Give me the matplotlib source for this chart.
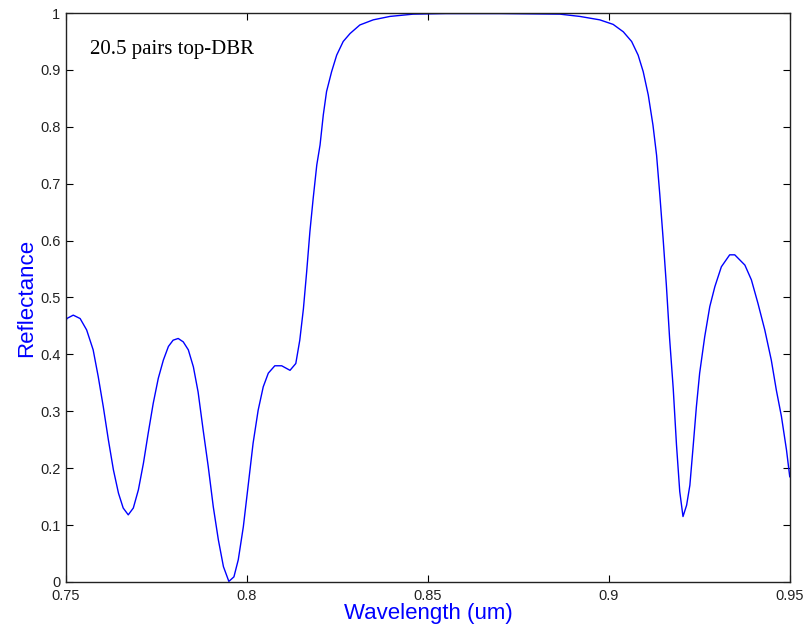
import matplotlib
matplotlib.use("Agg")
from matplotlib import pyplot as plt

# reflectance spectrum
wavelength = [0.7500, 0.7502, 0.7520, 0.7539, 0.7557, 0.7575, 0.7589, 0.7603,
              0.7617, 0.7631, 0.7645, 0.7658, 0.7672, 0.7686, 0.7700, 0.7714,
              0.7727, 0.7741, 0.7755, 0.7769, 0.7783, 0.7796, 0.7810, 0.7824,
              0.7838, 0.7852, 0.7865, 0.7879, 0.7893, 0.7907, 0.7921, 0.7935,
              0.7950, 0.7964, 0.7976, 0.7990, 0.8004, 0.8017, 0.8031, 0.8045,
              0.8059, 0.8077, 0.8096, 0.8119, 0.8135, 0.8146, 0.8156, 0.8165,
              0.8174, 0.8183, 0.8193, 0.8202, 0.8211, 0.8220, 0.8234, 0.8248,
              0.8266, 0.8285, 0.8312, 0.8349, 0.8395, 0.8459, 0.8550, 0.8700,
              0.8865, 0.8920, 0.8975, 0.9012, 0.9040, 0.9063, 0.9081, 0.9095,
              0.9109, 0.9122, 0.9132, 0.9141, 0.9150, 0.9159, 0.9168, 0.9178,
              0.9187, 0.9196, 0.9205, 0.9215, 0.9224, 0.9233, 0.9242, 0.9251,
              0.9265, 0.9279, 0.9293, 0.9311, 0.9334, 0.9348, 0.9376, 0.9394,
              0.9412, 0.9431, 0.9449, 0.9463, 0.9477, 0.9491, 0.9500]
reflectance = [0.457, 0.463, 0.469, 0.463, 0.443, 0.408, 0.361, 0.308,
               0.250, 0.197, 0.156, 0.130, 0.118, 0.130, 0.162, 0.209,
               0.261, 0.314, 0.358, 0.390, 0.414, 0.425, 0.428, 0.422,
               0.408, 0.378, 0.334, 0.267, 0.203, 0.132, 0.074, 0.027,
               0.001, 0.009, 0.039, 0.097, 0.173, 0.244, 0.302, 0.343,
               0.367, 0.380, 0.380, 0.372, 0.384, 0.425, 0.480, 0.545,
               0.616, 0.674, 0.733, 0.768, 0.821, 0.862, 0.897, 0.926,
               0.950, 0.964, 0.979, 0.988, 0.994, 0.998, 0.999, 0.999,
               0.998, 0.994, 0.988, 0.980, 0.967, 0.950, 0.926, 0.897,
               0.856, 0.803, 0.750, 0.680, 0.604, 0.522, 0.428, 0.340,
               0.241, 0.159, 0.115, 0.135, 0.170, 0.238, 0.308, 0.367,
               0.431, 0.484, 0.519, 0.554, 0.575, 0.575, 0.557, 0.531,
               0.490, 0.443, 0.390, 0.337, 0.291, 0.232, 0.185]

xticks = [0.75, 0.8, 0.85, 0.9, 0.95]
xlabels = ["0.75", "0.8", "0.85", "0.9", "0.95"]
yticks = [0, 0.1, 0.2, 0.3, 0.4, 0.5, 0.6, 0.7, 0.8, 0.9, 1.0]
ylabels = ["0", "0.1", "0.2", "0.3", "0.4", "0.5", "0.6", "0.7", "0.8", "0.9", "1"]

plt.rcParams['font.family'] = ['Liberation Sans', 'DejaVu Sans']

fig = plt.figure(figsize=(8.1, 6.38), dpi=100)
ax = fig.add_axes([0.0815, 0.0878, 0.8935, 0.8918])

ax.plot(wavelength, reflectance, color='#0000ff', lw=1.0)

ax.set_xlim(0.75, 0.95)
ax.set_ylim(0, 1)
ax.set_xticks(xticks)
ax.set_xticklabels(xlabels)
ax.set_yticks(yticks)
ax.set_yticklabels(ylabels)
ax.tick_params(direction='in', length=5, width=0.8, top=True, right=True,
               labelsize=10.5, colors='black', labelcolor='#222222')
ax.tick_params(axis='x', pad=5)
ax.tick_params(axis='y', pad=4)
for s in ax.spines.values():
    s.set_color('#222222')
    s.set_linewidth(1.0)

ax.set_xlabel("Wavelength (um)", color='#0000ff', fontsize=16, labelpad=0)
ax.set_ylabel("Reflectance", color='#0000ff', fontsize=16, labelpad=2)

ax.text(0.7565, 0.935, "20.5 pairs top-DBR", family='Liberation Serif',
        fontsize=15, va='center', ha='left')

fig.savefig("out.png", dpi=100)
